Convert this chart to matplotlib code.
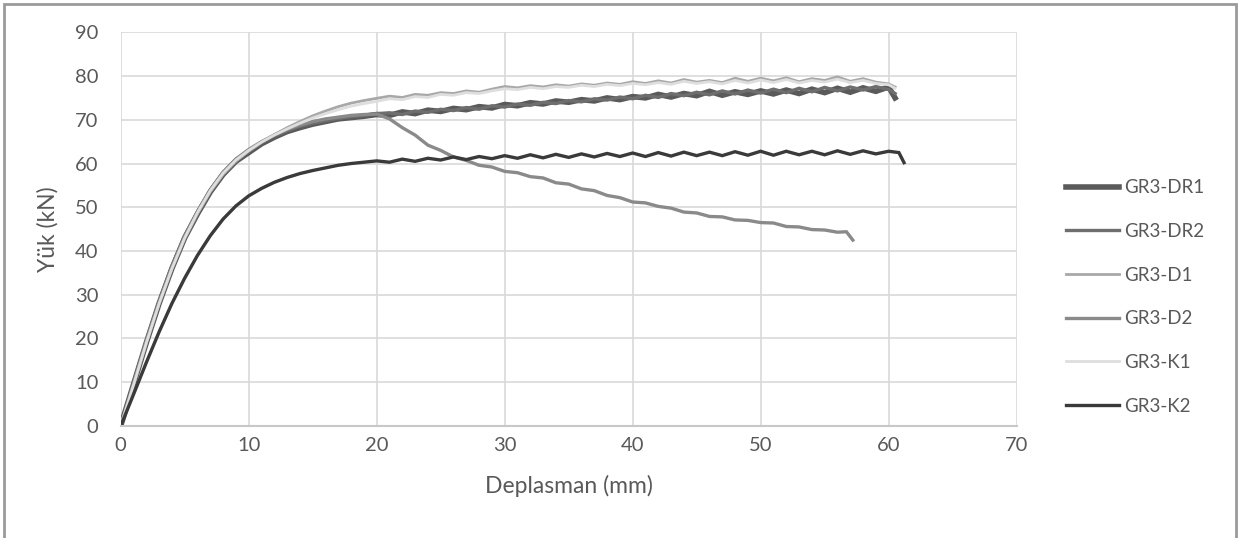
import numpy as np
import matplotlib as mpl
mpl.use('agg')
import matplotlib.pyplot as plt
from matplotlib.patches import Rectangle


# load-displacement curves (mm, kN)
x_dr1 = [0, 1, 2, 3, 4, 5, 6, 7, 8, 9, 10, 11, 12, 13, 14, 15, 16, 17, 18, 19, 20,
         21, 22, 23, 24, 25, 26, 27, 28, 29, 30, 31, 32, 33, 34, 35, 36, 37, 38, 39, 40,
         41, 42, 43, 44, 45, 46, 47, 48, 49, 50, 51, 52, 53, 54, 55, 56, 57, 58, 59, 60, 60.5]
y_dr1 = [0, 9.5, 19, 28, 36, 43, 48.5, 53.5, 57.5, 60.5, 62.5, 64.5, 66, 67.3, 68.2, 69, 69.6, 70.2, 70.5, 70.8, 71.2,
         71.0, 71.8, 71.4, 72.2, 71.9, 72.6, 72.3, 73.0, 72.7, 73.5, 73.2, 73.9, 73.6, 74.3, 74.0, 74.6, 74.3, 75.0, 74.6, 75.3,
         75.0, 75.8, 75.2, 76.0, 75.5, 76.5, 75.6, 76.4, 75.8, 76.6, 75.9, 76.8, 76.0, 77.0, 76.2, 77.2, 76.3, 77.3, 76.5, 77.5, 75.0]

x_dr2 = x_dr1
y_dr2 = [0, 9.8, 19.5, 28.5, 36.5, 43.5, 49, 54, 58, 61, 63, 64.8, 66.3, 67.5, 68.5, 69.2, 69.8, 70.3, 70.7, 71.0, 71.4,
         71.6, 71.2, 72.0, 71.7, 72.4, 72.1, 72.8, 72.4, 73.2, 72.9, 73.6, 73.3, 74.0, 73.7, 74.4, 74.1, 74.8, 74.5, 75.2, 74.8,
         75.6, 75.1, 76.0, 75.5, 76.3, 75.7, 76.6, 75.9, 76.8, 76.1, 77.0, 76.2, 77.2, 76.4, 77.4, 76.6, 77.5, 76.8, 77.6, 76.9, 76.0]

x_d1 = x_dr1
y_d1 = [0, 9.3, 18.8, 27.8, 35.8, 42.8, 48.5, 53.5, 57.5, 60.5, 62.8, 64.8, 66.6, 68.2, 69.6, 70.9, 72.0, 73.0, 73.8, 74.4, 74.9,
        75.4, 75.1, 75.8, 75.6, 76.2, 76.0, 76.6, 76.3, 77.0, 77.6, 77.3, 77.8, 77.5, 78.0, 77.7, 78.2, 77.9, 78.4, 78.1, 78.7,
        78.3, 78.9, 78.4, 79.2, 78.6, 79.0, 78.5, 79.5, 78.8, 79.5, 78.9, 79.6, 78.7, 79.4, 79.0, 79.8, 78.8, 79.4, 78.6, 78.2, 77.5]

x_d2 = [0, 1, 2, 3, 4, 5, 6, 7, 8, 9, 10, 11, 12, 13, 14, 15, 16, 17, 18, 19, 20,
        21, 22, 23, 24, 25, 26, 27, 28, 29, 30, 31, 32, 33, 34, 35, 36, 37, 38, 39, 40,
        41, 42, 43, 44, 45, 46, 47, 48, 49, 50, 51, 52, 53, 54, 55, 56, 56.7, 57.2]
y_d2 = [0, 9.6, 19.3, 28.3, 36.3, 43.3, 49, 54, 58, 61, 63.2, 65, 66.5, 67.8, 68.8, 69.6, 70.2, 70.6, 71.0, 71.2, 71.3,
        70.2, 68.2, 66.5, 64.2, 63.0, 61.5, 60.7, 59.6, 59.2, 58.2, 57.9, 57.0, 56.7, 55.6, 55.3, 54.2, 53.8, 52.7, 52.2, 51.2,
        51.0, 50.2, 49.8, 48.9, 48.7, 47.9, 47.8, 47.1, 47.0, 46.5, 46.4, 45.6, 45.5, 44.9, 44.8, 44.3, 44.4, 42.5]

x_k1 = x_dr1
y_k1 = [0, 9.4, 19, 28, 36, 43, 48.8, 53.8, 57.8, 60.8, 63, 64.9, 66.5, 67.9, 69.2, 70.4, 71.4, 72.3, 73.1, 73.7, 74.2,
        74.8, 74.6, 75.3, 75.1, 75.8, 75.6, 76.2, 76.0, 76.6, 77.1, 76.9, 77.4, 77.1, 77.6, 77.4, 77.9, 77.6, 78.1, 77.8, 78.3,
        78.0, 78.5, 78.1, 78.8, 78.3, 78.7, 78.2, 79.0, 78.4, 79.1, 78.5, 79.2, 78.4, 79.0, 78.6, 79.3, 78.5, 79.0, 78.3, 78.0, 77.2]

x_k2 = [0, 1, 2, 3, 4, 5, 6, 7, 8, 9, 10, 11, 12, 13, 14, 15, 16, 17, 18, 19, 20,
        21, 22, 23, 24, 25, 26, 27, 28, 29, 30, 31, 32, 33, 34, 35, 36, 37, 38, 39, 40,
        41, 42, 43, 44, 45, 46, 47, 48, 49, 50, 51, 52, 53, 54, 55, 56, 57, 58, 59, 60, 60.8, 61.2]
y_k2 = [0, 7.2, 14.5, 21.5, 28, 33.8, 39, 43.5, 47.3, 50.3, 52.6, 54.3, 55.7, 56.8, 57.7, 58.4, 59.0, 59.6, 60.0, 60.3, 60.6,
        60.3, 61.0, 60.5, 61.2, 60.8, 61.5, 60.9, 61.6, 61.1, 61.8, 61.2, 62.0, 61.3, 62.1, 61.4, 62.2, 61.5, 62.3, 61.6, 62.4,
        61.6, 62.5, 61.7, 62.6, 61.8, 62.6, 61.8, 62.7, 61.9, 62.8, 61.9, 62.8, 62.0, 62.8, 62.0, 62.9, 62.1, 62.9, 62.2, 62.8, 62.5, 60.2]

names = ['GR3-DR1', 'GR3-DR2', 'GR3-D1', 'GR3-D2', 'GR3-K1', 'GR3-K2']
xticks = [0, 10, 20, 30, 40, 50, 60, 70]
yticks = [0, 10, 20, 30, 40, 50, 60, 70, 80, 90]

plt.rcParams['font.family'] = ['Lato', 'DejaVu Sans']
text_color = '#595959'

fig = plt.figure(figsize=(12.43, 5.38), dpi=100)
ax = fig.add_axes([0.0971, 0.2082, 0.7208, 0.7318])

series = [(x_dr1, y_dr1, '#5a5a5a', 4.0),
          (x_dr2, y_dr2, '#6e6e6e', 2.4),
          (x_d1, y_d1, '#a8a8a8', 2.0),
          (x_d2, y_d2, '#8a8a8a', 2.4),
          (x_k1, y_k1, '#dedede', 2.0),
          (x_k2, y_k2, '#3a3a3a', 2.4)]

lines = []
for (xs, ys, c, lw), name in zip(series, names):
    ln, = ax.plot(xs, ys, color=c, lw=lw, label=name, solid_joinstyle='miter')
    lines.append(ln)

ax.set_xlim(0, 70)
ax.set_ylim(0, 90)
ax.set_xticks(xticks)
ax.set_yticks(yticks)
ax.grid(True, color='#d9d9d9', lw=1.2)
ax.set_axisbelow(True)
for s in ['top', 'right', 'left']:
    ax.spines[s].set_visible(False)
ax.spines['bottom'].set_color('#c8c8c8')
ax.spines['bottom'].set_linewidth(1.5)
ax.tick_params(axis='both', length=0, labelsize=14.5, colors=text_color)
ax.tick_params(axis='y', pad=16)
ax.tick_params(axis='x', pad=8)
ax.set_xlabel('Deplasman (mm)', fontsize=16.5, color=text_color, labelpad=15)
ax.set_ylabel('Yük (kN)', fontsize=16.5, color=text_color, labelpad=12)

fig.legend(handles=lines, loc='center left', bbox_to_anchor=(0.858, 0.448),
           frameon=False, fontsize=13.5, handlelength=2.8, handletextpad=0.3,
           labelspacing=1.42, borderpad=0, borderaxespad=0, labelcolor=text_color)

# outer frame around the chart
fig.patches.append(Rectangle((4 / 1243, -0.01), 1232 / 1243, 1 - 4 / 538 + 0.01,
                             transform=fig.transFigure, fill=False,
                             edgecolor='#9a9a9a', lw=2))

fig.savefig('out.png', dpi=100)
